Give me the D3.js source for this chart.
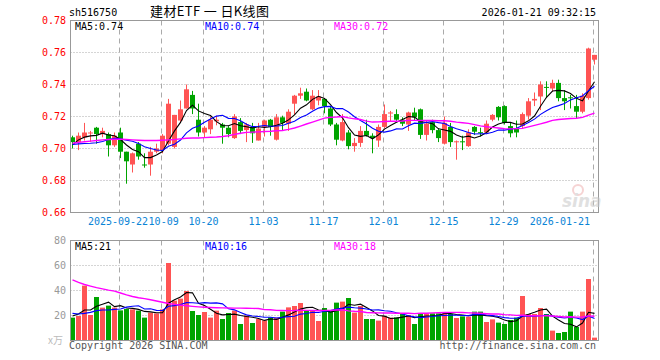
<!DOCTYPE html>
<html><head><meta charset="utf-8">
<script src="https://cdn.jsdelivr.net/npm/d3@7/dist/d3.min.js"></script>
<style>
html,body{margin:0;padding:0;background:#fff;}
svg text{font-family:"DejaVu Sans Mono","Liberation Mono",monospace;font-size:10px;}
</style></head>
<body><svg id="c" width="660" height="360"></svg>
<script>
const dates = [
"2025-09-10","2025-09-11","2025-09-12","2025-09-15","2025-09-16","2025-09-17","2025-09-18","2025-09-19",
"2025-09-22","2025-09-23","2025-09-24","2025-09-25","2025-09-26","2025-09-29","2025-09-30",
"2025-10-09","2025-10-10","2025-10-13","2025-10-14","2025-10-15","2025-10-16","2025-10-17",
"2025-10-20","2025-10-21","2025-10-22","2025-10-23","2025-10-24","2025-10-27","2025-10-28","2025-10-29","2025-10-30","2025-10-31",
"2025-11-03","2025-11-04","2025-11-05","2025-11-06","2025-11-07","2025-11-10","2025-11-11","2025-11-12","2025-11-13","2025-11-14",
"2025-11-17","2025-11-18","2025-11-19","2025-11-20","2025-11-21","2025-11-24","2025-11-25","2025-11-26","2025-11-27","2025-11-28",
"2025-12-01","2025-12-02","2025-12-03","2025-12-04","2025-12-05","2025-12-08","2025-12-09","2025-12-10","2025-12-11","2025-12-12",
"2025-12-15","2025-12-16","2025-12-17","2025-12-18","2025-12-19","2025-12-22","2025-12-23","2025-12-24","2025-12-25","2025-12-26",
"2025-12-29","2025-12-30","2025-12-31",
"2026-01-05","2026-01-06","2026-01-07","2026-01-08","2026-01-09","2026-01-12","2026-01-13","2026-01-14","2026-01-15","2026-01-16",
"2026-01-19","2026-01-20","2026-01-21"];

const open  = [.707,.704,.707,.7095,.713,.709,.709,.702,.710,.698,.690,.703,.690,.690,.698,.699,.703,.701,.7175,.725,.7335,.718,.710,.712,.717,.715,.713,.7065,.7165,.7115,
.7135,.705,.7135,.718,.7055,.7195,.7155,.728,.733,.7355,.7245,.730,.731,.725,.715,.705,.710,.7015,.7035,.711,.708,.705,.7135,.722,.7215,.718,.715,.7225,.7245,.7085,
.7165,.7115,.703,.7135,.704,.7045,.7015,.7135,.7102,.710,.718,.726,.7265,.714,.7125,.714,.7205,.730,.7325,.7385,.7375,.741,.7315,.732,.7265,.723,.7315,.7555];
const high  = [.708,.710,.716,.711,.7135,.713,.710,.710,.713,.698,.6975,.704,.697,.701,.703,.709,.731,.721,.730,.740,.736,.728,.714,.720,.7205,.716,.714,.7215,.719,.716,
.716,.716,.718,.7185,.7215,.7205,.7245,.7335,.738,.7375,.7365,.7365,.7315,.726,.716,.7215,.7115,.7065,.714,.718,.7095,.715,.7275,.7235,.7245,.7195,.723,.7255,.725,.7175,
.718,.7125,.720,.716,.705,.708,.712,.714,.713,.7175,.7215,.7265,.727,.716,.7175,.7225,.7315,.735,.742,.742,.743,.743,.7365,.7335,.7335,.7345,.763,.7585];
const low   = [.700,.699,.705,.704,.703,.707,.695,.701,.694,.678,.685,.693,.688,.683,.697,.697,.702,.700,.716,.725,.7215,.7075,.707,.709,.7145,.703,.707,.706,.709,.704,
.7035,.705,.7075,.708,.705,.711,.711,.721,.731,.7295,.724,.727,.722,.714,.702,.7045,.6995,.698,.701,.7075,.697,.701,.7125,.717,.717,.714,.711,.7175,.706,.705,
.7095,.704,.7025,.701,.693,.699,.701,.7085,.7075,.709,.717,.7175,.715,.707,.707,.7125,.718,.7265,.724,.7315,.7355,.7295,.724,.725,.719,.722,.7305,.7525];
const close = [.704,.708,.710,.710,.709,.711,.702,.708,.698,.692,.697,.695,.6895,.698,.700,.708,.728,.721,.7245,.737,.725,.710,.713,.718,.718,.713,.709,.720,.711,.715,
.7095,.7125,.7175,.7135,.7195,.716,.723,.733,.7345,.730,.733,.7325,.7265,.715,.7055,.7165,.7015,.7035,.711,.708,.7065,.7135,.7215,.7225,.718,.7155,.7225,.7195,.7085,.7155,
.7115,.7065,.716,.704,.7045,.704,.710,.7105,.710,.7155,.721,.7195,.716,.7095,.710,.7215,.7295,.731,.740,.738,.741,.7315,.7295,.7318,.723,.733,.7625,.7585];
const volume = [18.3,19.6,43.9,20.4,34.8,26.3,27.9,26.3,24.1,25.2,24.9,23.9,18.3,22.3,21.7,24.9,62.0,31.9,33.5,39.6,
23.6,20.4,22.8,18.3,23.9,17.2,22.0,23.9,13.2,19.9,14.0,17.2,16.1,18.5,18.3,23.1,26.5,27.6,30.0,24.4,
24.4,15.6,26.0,23.3,30.3,31.1,34.0,22.3,27.6,17.2,17.2,15.9,19.6,18.3,18.5,21.2,20.4,13.2,21.7,21.7,
21.7,21.7,21.7,21.2,18.0,19.3,19.1,23.1,23.1,14.8,16.9,14.3,13.2,16.4,18.3,35.6,21.2,21.2,26.0,21.2,
7.9,6.0,6.8,23.1,10.8,23.1,49.2,2.3];

// Moving-average values for the first sessions, whose window reaches back before 2025-09-10
const ma5Lead  = [.7023,.7054,.7071,.7079];
const ma10Lead = [.7025,.7029,.7031,.7033,.7036,.7044,.7056,.7063,.7060];
const ma30Lead = [.7033,.7038,.7042,.7046,.7050,.7054,.7056,.7058,.7058,.7056,.7054,.7052,.7050,.7050,.7050,
                  .7052,.7054,.7056,.7060,.7064,.7066,.7066,.7068,.7070,.7072,.7075,.7080,.7088,.7095];
const vma5Lead  = [19.6,21.2,24.4,24.4];
const vma10Lead = [21.7,21.2,21.7,22.5,23.9,24.4,24.4,24.9,25.2];
const vma30Lead = [48.5,46.5,44.8,43.5,42.3,41.3,40.3,39.5,38.0,36.5,35.2,34.2,33.5,32.6,31.6,
                   30.6,29.6,28.9,28.3,27.8,27.3,26.9,26.6,26.4,26.2,26.1,26.0,25.9,25.9];

const priceTicks = [0.66,0.68,0.70,0.72,0.74,0.76,0.78];
const volTicks = [20,40,60,80];
const tickDates  = ["2025-09-22","2025-10-09","2025-10-20","2025-11-03","2025-11-17","2025-12-01","2025-12-15","2025-12-29","2026-01-21"];
const tickLabels = ["2025-09-22","10-09","10-20","11-03","11-17","12-01","12-15","12-29","2026-01-21"];
const priceLegend = ["MA5:0.74","MA10:0.74","MA30:0.72"];
const volLegend = ["MA5:21","MA10:16","MA30:18"];
const maColors = ["#000000","#0000ff","#ff00ff"];

const RED = "#ff5454", GREEN = "#00a400";
const svg = d3.select("#c");
svg.append("rect").attr("width",660).attr("height",360).attr("fill","#fff");

const L = 70.5, R = 598.5;
const x = d3.scalePoint().domain(dates).range([72.5, 594.5]);
const y = d3.scaleLinear().domain([0.66, 0.78]).range([212.5, 20.5]);
const yv = d3.scaleLinear().domain([0, 80]).range([340.5, 240.5]);

function ma(arr, n, lead){
  return arr.map((v,i)=>{
    if (i < n-1) return lead[i];
    let s=0; for(let k=i-n+1;k<=i;k++) s+=arr[k]; return s/n;
  });
}
const pMA = [ma(close,5,ma5Lead), ma(close,10,ma10Lead), ma(close,30,ma30Lead)];
const vMA = [ma(volume,5,vma5Lead), ma(volume,10,vma10Lead), ma(volume,30,vma30Lead)];

const defs = svg.append("defs");
defs.append("clipPath").attr("id","cp").append("rect").attr("x",L).attr("y",20.5).attr("width",R-L).attr("height",192);
defs.append("clipPath").attr("id","cv").append("rect").attr("x",L).attr("y",240.5).attr("width",R-L).attr("height",100);

// grid
const g = svg.append("g");
g.selectAll(".hg").data(priceTicks.filter(t=>t>0.661 && t<0.779)).enter().append("line")
 .attr("x1",L).attr("x2",R).attr("y1",d=>y(d)).attr("y2",d=>y(d))
 .attr("stroke","#aaa").attr("stroke-dasharray","1,2");
g.selectAll(".hv").data(volTicks.filter(t=>t<80)).enter().append("line")
 .attr("x1",L).attr("x2",R).attr("y1",d=>yv(d)).attr("y2",d=>yv(d))
 .attr("stroke","#aaa").attr("stroke-dasharray","1,2");
const gx = d => Math.round(x(d)-2)+0.5;
tickDates.forEach(d=>{
  [[20.5,212.5],[240.5,340.5]].forEach(([a,b])=>{
    g.append("line").attr("x1",gx(d)).attr("x2",gx(d)).attr("y1",a).attr("y2",b)
     .attr("stroke","#aaa").attr("stroke-dasharray","5,4");
  });
});

// candles
const cg = svg.append("g").attr("clip-path","url(#cp)");
const idx = d3.range(dates.length);
const col = i => close[i] >= open[i] ? RED : GREEN;
cg.selectAll(".wick").data(idx).enter().append("line")
 .attr("x1",i=>x(dates[i])).attr("x2",i=>x(dates[i]))
 .attr("y1",i=>y(high[i])).attr("y2",i=>y(low[i]))
 .attr("stroke",col).attr("stroke-width",1);
cg.selectAll(".body").data(idx).enter().append("rect")
 .attr("x",i=>x(dates[i])-2.5).attr("width",5)
 .attr("y",i=>Math.min(y(open[i]),y(close[i])))
 .attr("height",i=>Math.max(1,Math.abs(y(open[i])-y(close[i]))))
 .attr("fill",col);

// volume bars
const vg = svg.append("g").attr("clip-path","url(#cv)");
vg.selectAll(".vb").data(idx).enter().append("rect")
 .attr("x",i=>x(dates[i])-2.5).attr("width",5)
 .attr("y",i=>yv(volume[i])).attr("height",i=>yv(0)-yv(volume[i]))
 .attr("fill",col);

// MA lines
pMA.forEach((s,k)=>{
  cg.append("path").datum(s).attr("fill","none").attr("stroke",maColors[k]).attr("stroke-width",k==2?1.4:1.1)
   .attr("d", d3.line().x((v,i)=>x(dates[i])).y(v=>y(v)));
});
vMA.forEach((s,k)=>{
  vg.append("path").datum(s).attr("fill","none").attr("stroke",maColors[k]).attr("stroke-width",k==2?1.4:1.1)
   .attr("d", d3.line().x((v,i)=>x(dates[i])).y(v=>yv(v)));
});

// frames
svg.append("rect").attr("x",L).attr("y",20.5).attr("width",R-L).attr("height",192).attr("fill","none").attr("stroke","#999");
svg.append("rect").attr("x",L).attr("y",240.5).attr("width",R-L).attr("height",100).attr("fill","none").attr("stroke","#999");

// watermark
const wm = svg.append("g").attr("opacity",0.55);
wm.append("circle").attr("cx",578).attr("cy",190).attr("r",5).attr("fill","none").attr("stroke","#f0b0b0").attr("stroke-width",2);
wm.append("text").attr("x",562).attr("y",207).text("sina").attr("fill","#c8c8c8")
  .style("font-family","'DejaVu Sans',sans-serif").style("font-size","17px").style("font-weight","bold").style("font-style","italic");

// texts
svg.append("text").attr("x",69).attr("y",16).text("sh516750").attr("fill","#000");
svg.append("text").attr("x",150).attr("y",16).attr("xml:space","preserve").text("建材ETF 一 日K线图").attr("fill","#000")
  .attr("textLength",119).attr("lengthAdjust","spacing")
  .style("font-family","'Noto Sans CJK SC',sans-serif").style("font-size","13px");
svg.append("text").attr("x",596).attr("y",16).attr("text-anchor","end").text("2026-01-21 09:32:15").attr("fill","#000");

svg.selectAll(".pl").data(priceTicks).enter().append("text")
 .attr("x",66).attr("y",d=>y(d)+3.5).attr("text-anchor","end").attr("fill","#ff0000").text(d=>d.toFixed(2));
svg.selectAll(".vl").data(volTicks).enter().append("text")
 .attr("x",66).attr("y",d=>yv(d)+3.5).attr("text-anchor","end").attr("fill","#999").text(d=>d);
svg.append("text").attr("x",48).attr("y",344).text("x万").attr("fill","#bbb")
 .style("font-family","'Noto Sans CJK SC',sans-serif").style("font-size","10px");

const legX = [75,205,334];
priceLegend.forEach((t,k)=>svg.append("text").attr("x",legX[k]).attr("y",30).attr("fill",maColors[k]).text(t));
volLegend.forEach((t,k)=>svg.append("text").attr("x",legX[k]).attr("y",249.5).attr("fill",maColors[k]).text(t));

// date labels: centred on the tick, pushed so that neighbours just touch and the last stays inside
let prevRight = -Infinity;
tickDates.forEach((d,k)=>{
  const w = tickLabels[k].length*6.02;
  let left = gx(d) - w/2;
  if (k === 0) left -= 1.5;
  if (left < prevRight + 0.5) left = prevRight + 0.5;
  if (left + w > 590) left = 590 - w;
  svg.append("text").attr("y",225).attr("x",left).attr("fill","#0a84d6").text(tickLabels[k]);
  prevRight = left + w;
});

svg.append("text").attr("x",69).attr("y",349).attr("fill","#555").text("Copyright 2026 SINA.COM");
svg.append("text").attr("x",596).attr("y",349).attr("text-anchor","end").attr("fill","#555").text("http://finance.sina.com.cn");
</script></body></html>
